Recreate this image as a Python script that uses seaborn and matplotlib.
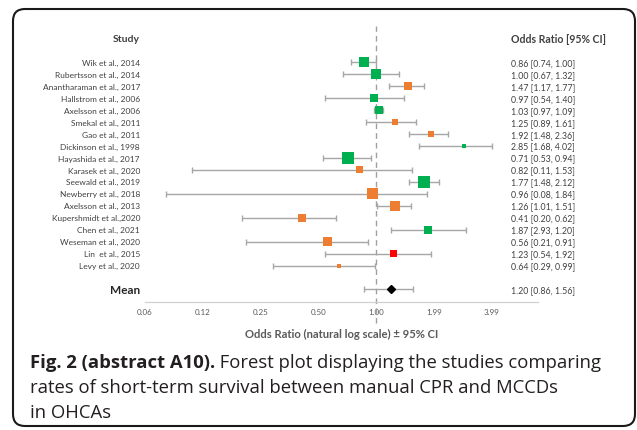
import matplotlib

matplotlib.use("Agg")
import matplotlib.pyplot as plt
import matplotlib.patches as mpatches
import matplotlib.transforms as mtransforms
import pandas as pd
import seaborn as sns

# ---- data ----
studies = [
    "Wik et al., 2014", "Rubertsson et al., 2014", "Anantharaman et al., 2017",
    "Hallstrom et al., 2006", "Axelsson et al., 2006", "Smekal et al., 2011",
    "Gao et al., 2011", "Dickinson et al., 1998", "Hayashida et al., 2017",
    "Karasek et al., 2020", "Seewald et al., 2019", "Newberry et al., 2018",
    "Axelsson et al., 2013", "Kupershmidt et al.,2020", "Chen et al., 2021",
    "Weseman et al., 2020", "Lin  et al., 2015", "Levy et al., 2020",
]
odds_ratio = [0.86, 1.00, 1.47, 0.97, 1.03, 1.25, 1.92, 2.85, 0.71,
              0.82, 1.77, 0.96, 1.26, 0.41, 1.87, 0.56, 1.23, 0.64]
ci_a = [0.74, 0.67, 1.17, 0.54, 0.97, 0.89, 1.48, 1.68, 0.53,
        0.11, 1.48, 0.08, 1.01, 0.20, 2.93, 0.21, 0.54, 0.29]
ci_b = [1.00, 1.32, 1.77, 1.40, 1.09, 1.61, 2.36, 4.02, 0.94,
        1.53, 2.12, 1.84, 1.51, 0.62, 1.20, 0.91, 1.92, 0.99]
# relative study weight (drives the square size)
weight = [10, 10, 8, 8, 8, 6, 6, 4, 12, 7, 12, 11, 10, 8, 8, 9, 7, 4]
group = ["g", "g", "o", "g", "g", "o", "o", "g", "g",
         "o", "g", "o", "o", "o", "g", "o", "r", "o"]

mean_or = 1.20
mean_ci = [0.86, 1.56]

tick_values = [0.0625, 0.125, 0.25, 0.5, 1.0, 2.0, 4.0]
tick_labels = ["0.06", "0.12", "0.25", "0.50", "1.00", "1.99", "3.99"]

caption_bold = "Fig. 2 (abstract A10)."
caption_lines = [
    " Forest plot displaying the studies comparing",
    "rates of short-term survival between manual CPR and MCCDs",
    "in OHCAs",
]

PALETTE = {"g": "#00B050", "o": "#ED7D31", "r": "#FF0000"}
GREY_LINE = "#A6A6A6"
TEXT = "#404040"


def main() -> None:
    sns.set_theme(style="white")
    plt.rcParams["font.family"] = ["Lato", "DejaVu Sans"]

    W, H = 637, 431
    fig = plt.figure(figsize=(W / 100, H / 100), dpi=100)
    fig.patch.set_facecolor("white")

    # axes box in pixel terms
    ax = fig.add_axes([145 / W, 1 - 303 / H, (538 - 145) / W, (303 - 27) / H])
    ax.set_facecolor("white")

    df = pd.DataFrame({
        "study": studies,
        "row": range(len(studies)),
        "or": odds_ratio,
        "lo": [min(a, b) for a, b in zip(ci_a, ci_b)],
        "hi": [max(a, b) for a, b in zip(ci_a, ci_b)],
        "group": group,
        "area": [(w * 0.72) ** 2 for w in weight],
    })

    ax.errorbar(df["or"], df["row"],
                xerr=[df["or"] - df["lo"], df["hi"] - df["or"]],
                fmt="none", ecolor=GREY_LINE, elinewidth=1.0,
                capsize=2.0, capthick=1.0, zorder=2)
    sns.scatterplot(data=df, x="or", y="row", hue="group", palette=PALETTE,
                    size="area", sizes=(df["area"].min(), df["area"].max()),
                    marker="s", linewidth=0, legend=False, ax=ax, zorder=3)

    mean_row = len(studies) + 1
    ax.errorbar([mean_or], [mean_row],
                xerr=[[mean_or - mean_ci[0]], [mean_ci[1] - mean_or]],
                fmt="D", color="black", ms=4.2, ecolor=GREY_LINE,
                elinewidth=1.0, capsize=2.0, capthick=1.0, zorder=3)

    ax.axvline(1.0, ymin=-0.075, ymax=1.0, color="#A0A0A0", lw=1.0,
               ls=(0, (4, 3)), clip_on=False, zorder=1)

    ax.set_xscale("log", base=2)
    ax.set_xlim(0.0625, 6.96)
    ax.set_ylim(20.05, -3.05)
    ax.set_xticks(tick_values)
    ax.set_xticklabels(tick_labels)
    ax.minorticks_off()
    ax.set_yticks([])
    ax.tick_params(axis="x", length=0, pad=4, labelsize=5.8, labelcolor="#595959")
    for side in ("left", "top", "right"):
        ax.spines[side].set_visible(False)
    ax.spines["bottom"].set_color("#D0D0D0")
    ax.spines["bottom"].set_linewidth(0.9)
    ax.set_xlabel("Odds Ratio (natural log scale) ± 95% CI", fontsize=8.1,
                  fontweight="bold", color="#595959", labelpad=10)
    ax.set_ylabel("")

    # text columns: x in figure fraction, y in data rows
    tr = mtransforms.blended_transform_factory(fig.transFigure, ax.transData)
    ax.text(140 / W, -2, "Study", transform=tr, ha="right", va="center",
            fontsize=7.5, fontweight="bold", color=TEXT)
    ax.text(511 / W, -2, "Odds Ratio [95% CI]", transform=tr, ha="left",
            va="center", fontsize=7.6, fontweight="bold", color=TEXT)
    for i, name in enumerate(studies):
        ax.text(140 / W, i, name, transform=tr, ha="right", va="center",
                fontsize=6.0, color=TEXT)
        ax.text(511 / W, i, f"{odds_ratio[i]:.2f} [{ci_a[i]:.2f}, {ci_b[i]:.2f}]",
                transform=tr, ha="left", va="center", fontsize=6.3, color=TEXT)
    ax.text(140 / W, mean_row, "Mean", transform=tr, ha="right", va="center",
            fontsize=8.5, fontweight="bold", color="#262626")
    ax.text(511 / W, mean_row,
            f"{mean_or:.2f} [{mean_ci[0]:.2f}, {mean_ci[1]:.2f}]",
            transform=tr, ha="left", va="center", fontsize=6.3, color=TEXT)

    # caption
    cap_kw = dict(fontsize=13.3, color="#231F20", va="center",
                  family=["Open Sans", "DejaVu Sans"])
    t0 = fig.text(30 / W, 1 - 363 / H, caption_bold, fontweight="bold", **cap_kw)
    fig.canvas.draw()
    x1 = t0.get_window_extent().x1
    fig.text(x1 / W, 1 - 363 / H, caption_lines[0], **cap_kw)
    fig.text(30 / W, 1 - 388 / H, caption_lines[1], **cap_kw)
    fig.text(30 / W, 1 - 413 / H, caption_lines[2], **cap_kw)

    # rounded frame around everything
    frame = mpatches.FancyBboxPatch(
        (13, H - 427), 635 - 13, 427 - 10,
        boxstyle="round,pad=0,rounding_size=12",
        transform=mtransforms.IdentityTransform(),
        fill=False, edgecolor="#1A1A1A", linewidth=1.5)
    fig.add_artist(frame)

    fig.savefig("out.png", dpi=100)


if __name__ == "__main__":
    main()
